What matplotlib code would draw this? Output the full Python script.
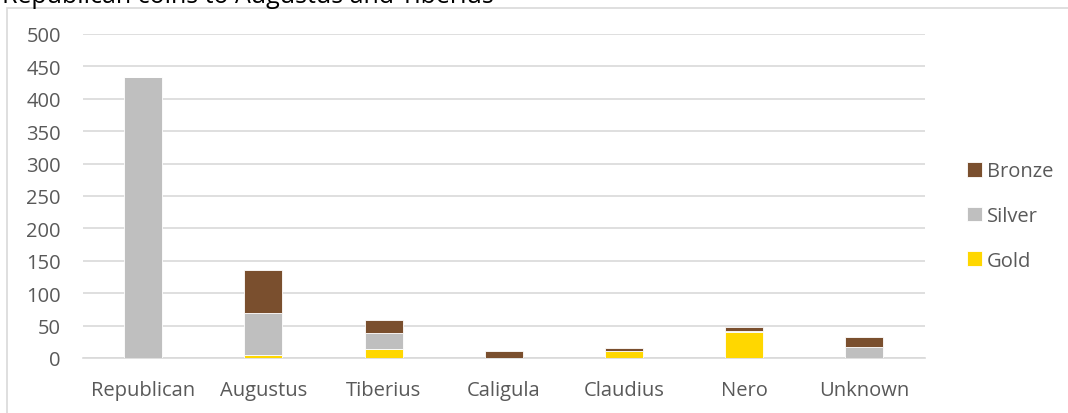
import matplotlib.pyplot as plt
from matplotlib.patches import Rectangle
import numpy as np

plt.rcParams["font.family"] = ["Open Sans", "DejaVu Sans"]

rulers = ["Republican", "Augustus", "Tiberius", "Caligula", "Claudius", "Nero", "Unknown"]
gold = [0, 5, 14, 0, 10, 40, 0]
silver = [434, 64, 25, 0, 0, 2, 17]
bronze = [0, 67, 20, 10, 5, 5, 16]
title = "Republican coins to Augustus and Tiberius"

fig = plt.figure(figsize=(10.68, 4.14), dpi=100)
ax = fig.add_axes([0.0777, 0.133, 0.788, 0.7825])

x = np.arange(len(rulers))
g = np.array(gold)
s = np.array(silver)
b = np.array(bronze)
w = 0.316
ax.bar(x, g, w, color="#FFD700", edgecolor="white", linewidth=0.6, label="Gold", zorder=3)
ax.bar(x, s, w, bottom=g, color="#BFBFBF", edgecolor="white", linewidth=0.6, label="Silver", zorder=3)
ax.bar(x, b, w, bottom=g + s, color="#7A4F2E", edgecolor="white", linewidth=0.6, label="Bronze", zorder=3)

ax.set_xlim(-0.5, len(rulers) - 0.5)
ax.set_ylim(0, 500)
ax.set_yticks(range(0, 501, 50))
ax.set_xticks(x)
ax.set_xticklabels(rulers)
ax.yaxis.grid(True, color="#D9D9D9", linewidth=1.2)
ax.set_axisbelow(True)
for sp in ["top", "right", "left"]:
    ax.spines[sp].set_visible(False)
ax.spines["bottom"].set_color("#D9D9D9")
ax.spines["bottom"].set_linewidth(1.2)
ax.tick_params(length=0, labelsize=14.5, colors="#595959")
ax.tick_params(axis="x", pad=16)
ax.tick_params(axis="y", pad=16)

h, l = ax.get_legend_handles_labels()
leg = fig.legend(h[::-1], l[::-1], loc="center left", bbox_to_anchor=(0.888, 0.476),
                 frameon=False, fontsize=14.5, labelspacing=1.22, handlelength=0.75,
                 handleheight=0.75, handletextpad=0.25)
for t in leg.get_texts():
    t.set_color("#595959")

# outer chart frame (cut at right and bottom)
fig.patches.append(Rectangle((7 / 1068, -0.1), 1.2, (414 - 8.5) / 414 + 0.1,
                             transform=fig.transFigure, fill=False,
                             edgecolor="#D9D9D9", linewidth=1.2))
# title sits mostly above the top edge, as in the source image
fig.text(0.002, 1 - 3 / 414, title, fontsize=18, color="black", va="baseline", ha="left")

fig.savefig("out.png", dpi=100)
